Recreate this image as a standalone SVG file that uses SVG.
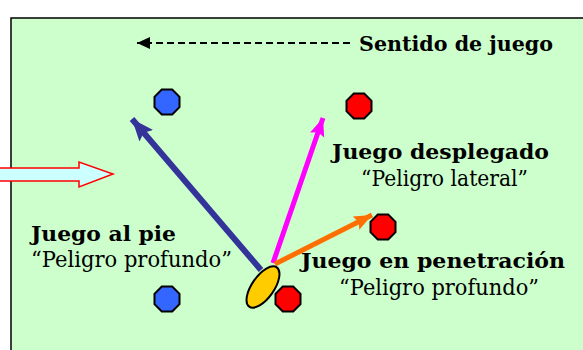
<svg xmlns="http://www.w3.org/2000/svg" width="583" height="350" viewBox="0 0 583 350">
<style>
.t{font-family:"DejaVu Serif","Liberation Serif",serif;fill:#000}
.b{font-weight:bold;font-size:21px}
.r{font-size:21.5px}
.oct{stroke:#000;stroke-width:2}
</style>
<defs>
<polygon id="oct" points="12.5,-5.2 12.5,5.2 5.2,12.5 -5.2,12.5 -12.5,5.2 -12.5,-5.2 -5.2,-12.5 5.2,-12.5"/>
<marker id="mBlue" markerUnits="userSpaceOnUse" markerWidth="24" markerHeight="20" refX="22" refY="10" orient="auto"><path d="M0,1 L22,10 L0,19 L4,10 Z" fill="#333399"/></marker>
<marker id="mMag" markerUnits="userSpaceOnUse" markerWidth="20" markerHeight="16" refX="18" refY="8" orient="auto"><path d="M0,0.5 L18,8 L0,15.5 L3,8 Z" fill="#ff00ff"/></marker>
<marker id="mOra" markerUnits="userSpaceOnUse" markerWidth="20" markerHeight="16" refX="18" refY="8" orient="auto"><path d="M0,0.5 L18,8 L0,15.5 L3,8 Z" fill="#ff6e00"/></marker>
<marker id="mBlk" markerUnits="userSpaceOnUse" markerWidth="14" markerHeight="12" refX="13" refY="6" orient="auto"><path d="M0,0 L13,6 L0,12 Z" fill="#000"/></marker>
</defs>
<rect x="11" y="18" width="600" height="400" fill="#ccffcc" stroke="#000" stroke-width="1.5"/>
<g id="entrada"><polygon points="-2,168 79,168 79,162 113,174 79,187 79,181 -2,181" fill="#ccffff" stroke="#ff0000" stroke-width="1.5"/></g>
<g id="connectors">
<line x1="350" y1="43" x2="137" y2="43" stroke="#000" stroke-width="2" stroke-dasharray="7 4" marker-end="url(#mBlk)"/>
<line x1="261" y1="270" x2="132" y2="119" stroke="#333399" stroke-width="6" marker-end="url(#mBlue)"/>
<line x1="273" y1="263" x2="323" y2="118" stroke="#ff00ff" stroke-width="5" marker-end="url(#mMag)"/>
<line x1="275" y1="264" x2="372" y2="215" stroke="#ff6e00" stroke-width="5" marker-end="url(#mOra)"/>
</g>
<g id="azul1"><use href="#oct" x="167" y="102" fill="#3366ff" class="oct"/></g>
<g id="azul2"><use href="#oct" x="167" y="299" fill="#3366ff" class="oct"/></g>
<g id="rojo1"><use href="#oct" x="359" y="106" fill="#ff0000" class="oct"/></g>
<g id="rojo2"><use href="#oct" x="383" y="227" fill="#ff0000" class="oct"/></g>
<g id="rojo3"><use href="#oct" x="288" y="299" fill="#ff0000" class="oct"/></g>
<g id="balon"><ellipse cx="263" cy="287" rx="11" ry="24" transform="rotate(35 263 287)" fill="#ffcc00" stroke="#000" stroke-width="2"/></g>
<g id="sentido"><text class="t b" x="359" y="51" textLength="194" lengthAdjust="spacingAndGlyphs">Sentido de juego</text></g>
<g id="desplegado">
<text class="t b" x="332" y="159" textLength="217" lengthAdjust="spacingAndGlyphs">Juego desplegado</text>
<text class="t r" x="361" y="186" textLength="167" lengthAdjust="spacingAndGlyphs">“Peligro lateral”</text>
</g>
<g id="penetracion">
<text class="t b" x="301" y="268" textLength="264" lengthAdjust="spacingAndGlyphs">Juego en penetración</text>
<text class="t r" x="339" y="295" textLength="200" lengthAdjust="spacingAndGlyphs">“Peligro profundo”</text>
</g>
<g id="alpie">
<text class="t b" x="31" y="241" textLength="145" lengthAdjust="spacingAndGlyphs">Juego al pie</text>
<text class="t r" x="31" y="267" textLength="201" lengthAdjust="spacingAndGlyphs">“Peligro profundo”</text>
</g>
</svg>
